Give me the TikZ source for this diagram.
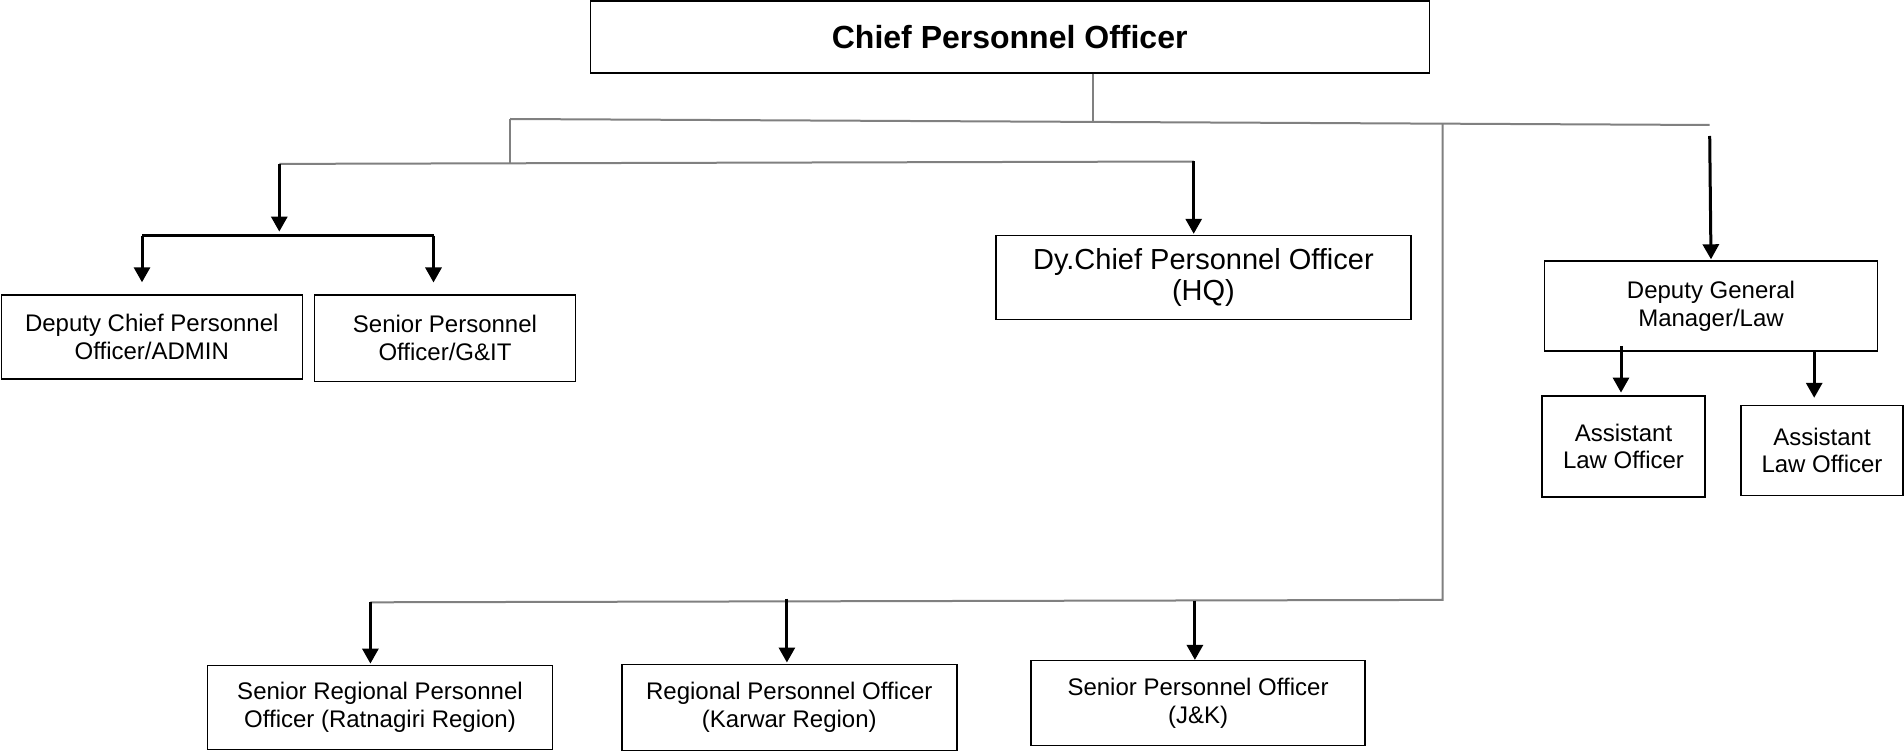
\documentclass[tikz,border=0pt]{standalone}
\usepackage{fontspec}
\setmainfont{Liberation Sans}
\usetikzlibrary{arrows.meta, shapes, positioning}

\tikzset{
  box/.style={draw, rectangle, line width=1.4pt, align=center, inner sep=2pt, font=\fontsize{24}{27.6}\selectfont},
  link/.style={draw=gray, line width=2pt},
  arr/.style={-{Triangle[width=16pt,length=15pt]}, line width=3pt},
}

\begin{document}
\begin{tikzpicture}[x=1pt, y=-1pt]
  \useasboundingbox (0,0) rectangle (1904,751);
     % nodes %
  \node[box, minimum width=839pt, minimum height=72pt, font=\bfseries\fontsize{32}{36}\selectfont] (cpo) at (1009.7,37) {Chief Personnel Officer};
  \node[box, minimum width=301pt, minimum height=84pt] (dcpo) at (151.8,337) {Deputy Chief Personnel\\Officer/ADMIN};
  \node[box, minimum width=261pt, minimum height=86pt] (spogit) at (445,338.2) {Senior Personnel\\Officer/G\&IT};
  \node[box, minimum width=415pt, minimum height=84pt, font=\fontsize{29}{31}\selectfont] (dycpo) at (1203.4,277.5) {Dy.Chief Personnel Officer\\(HQ)};
  \node[box, minimum width=333pt, minimum height=90pt] (dgm) at (1711,306) {Deputy General\\Manager/Law};
  \node[box, minimum width=163pt, minimum height=101pt] (alo1) at (1623.5,446.3) {Assistant\\Law Officer};
  \node[box, minimum width=162pt, minimum height=90pt] (alo2) at (1822,450.5) {Assistant\\Law Officer};
  \node[box, minimum width=345pt, minimum height=84pt] (srpo) at (380,707.3) {Senior Regional Personnel\\Officer (Ratnagiri Region)};
  \node[box, minimum width=335pt, minimum height=86pt] (rpo) at (789.3,707.2) {Regional Personnel Officer\\(Karwar Region)};
  \node[box, minimum width=334pt, minimum height=85pt] (spojk) at (1198,703.1) {Senior Personnel Officer\\(J\&K)};

     % junctions %
  \coordinate (t0) at (1092.9,121.9);
  \coordinate (tl) at (510,119);
  \coordinate (tr) at (1709.7,125);
  \coordinate (tm) at (1442.6,123.7);
  \coordinate (ml) at (510,163.3);
  \coordinate (hl) at (279.3,163.9);
  \coordinate (hr) at (1193.7,161.5);
  \coordinate (bl) at (142,235.6);
  \coordinate (bm) at (279.3,235.6);
  \coordinate (br) at (433.5,235.6);
  \coordinate (rt) at (1709.7,136);
  \coordinate (d1) at (1621,346);
  \coordinate (d2) at (1814.2,350.9);
  \coordinate (lm) at (1442.6,599.9);
  \coordinate (ll) at (370.4,602.3);
  \coordinate (lk) at (786.9,598.6);
  \coordinate (lj) at (1194.9,600.5);

     % edges %
  \draw[link] (cpo.south -| t0) -- (t0);
  \draw[link] (tl) -- (tr);
  \draw[link] (tl) -- (ml);
  \draw[link] (hl) -- (hr);
  \draw[arr, shorten >=4pt] (hl) -- (bm);
  \draw[line width=2.5pt] (bl) -- (br);
  \draw[arr, shorten >=12pt] (bl) -- (bl |- dcpo.north);
  \draw[arr, shorten >=12pt] (br) -- (br |- spogit.north);
  \draw[arr, shorten >=1pt] (hr) -- (hr |- dycpo.north);
  \draw[arr, shorten >=1pt] (rt) -- (dgm.north);
  \draw[arr, shorten >=2.5pt] (d1) -- (d1 |- alo1.north);
  \draw[arr, shorten >=7pt] (d2) -- (d2 |- alo2.north);
  \draw[link] (tm) -- (lm) -- (ll);
  \draw[arr, shorten >=1pt] (ll) -- (ll |- srpo.north);
  \draw[arr, shorten >=1pt] (lk) -- (lk |- rpo.north);
  \draw[arr] (lj) -- (lj |- spojk.north);
\end{tikzpicture}
\end{document}
